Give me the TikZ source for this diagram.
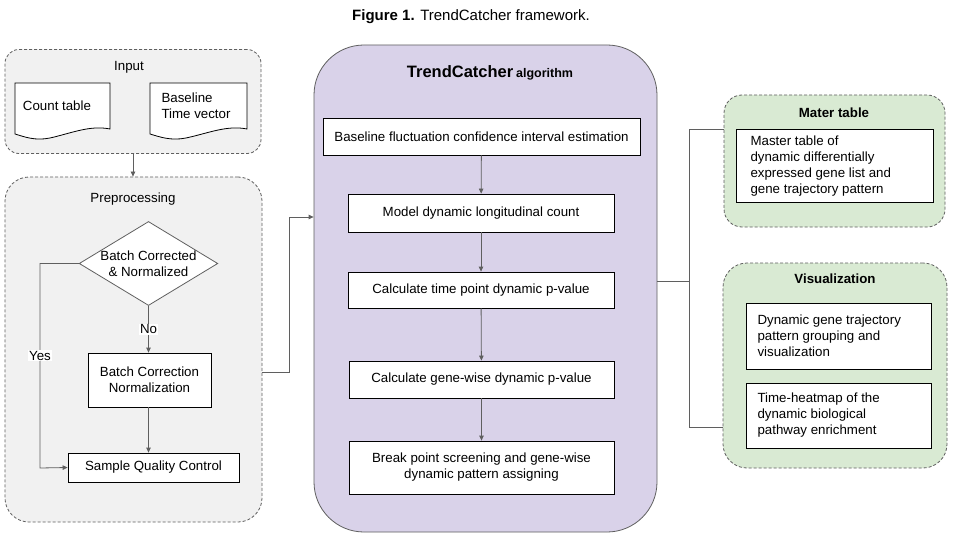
\documentclass[tikz,border=0pt]{standalone}
\usepackage{fontspec}
\setmainfont{Liberation Sans}
\usetikzlibrary{shapes.geometric,arrows.meta,calc}
\definecolor{lgray}{HTML}{F1F1F1}
\definecolor{lpurple}{HTML}{D9D2E9}
\definecolor{lgreen}{HTML}{D9EAD3}
\definecolor{lineg}{HTML}{5F5F5F}
\tikzset{
  txt/.style={font=\fontsize{13.3}{16}\selectfont},
  group/.style={draw=lineg, dash pattern=on 3pt off 2pt, line width=0.8pt, rectangle, inner sep=0pt},
  stepbox/.style={draw=black, fill=white, line width=0.8pt, rectangle, inner sep=0pt, txt, align=center},
  conn/.style={draw=lineg, line width=0.8pt},
  arr/.style={conn, -{Triangle[length=5pt,width=4.5pt]}},
}
\begin{document}
\begin{tikzpicture}[x=1pt,y=-1pt]
\useasboundingbox (0,0) rectangle (960,540);
\fill[white] (0,0) rectangle (960,540);

% title
\node[font=\fontsize{15}{18}\selectfont] (title) at (471,17) {\textbf{Figure 1.} TrendCatcher framework.};

% Input group
\node[group, fill=lgray, rounded corners=14pt, minimum width=256pt, minimum height=104pt] (input) at (133,101.5) {};
\node[txt] (inlab) at (129,67) {Input};
\draw[line width=0.8pt, fill=white] (15,83) -- (110,83) -- (110,129)
  .. controls (90,125) and (72,133) .. (50,138) .. controls (35,141) and (25,137) .. (15,134) -- cycle;
\node[txt] (count) at (57,106) {Count table};
\draw[line width=0.8pt, fill=white] (150,83) -- (247,83) -- (247,129)
  .. controls (227,125) and (209,133) .. (186,138) .. controls (171,141) and (160,137) .. (150,134) -- cycle;
\node[txt, align=left, anchor=west] (base) at (158,106) {Baseline\\Time vector};

% Preprocessing group
\node[group, fill=lgray, rounded corners=24pt, minimum width=257pt, minimum height=345pt] (prep) at (133.5,349.5) {};
\node[txt] (prelab) at (133,199) {Preprocessing};
\node[diamond, draw=lineg, fill=white, line width=0.8pt, minimum width=137pt, minimum height=83pt, inner sep=0pt, aspect=1.65, txt, align=center] (dia) at (148.5,263.5) {Batch Corrected\\\& Normalized};
\node[stepbox, minimum width=123pt, minimum height=54pt] (bcn) at (149.5,380) {Batch Correction\\Normalization};
\node[stepbox, minimum width=171pt, minimum height=29pt] (sqc) at (153.5,467.5) {Sample Quality Control};

\draw[arr] (input.south -| 133,0) -- (prep.north -| 133,0);
\draw[arr] (dia.south) -- node[fill=white, txt, inner sep=1pt] {No} (bcn.north -| dia.south);
\draw[arr] (bcn.south -| dia.south) -- (sqc.north -| dia.south);
\draw[arr] (dia.west) -- (40,263.5) -- node[fill=white, txt, inner sep=1pt, pos=0.45] {Yes} (40,468) -- (sqc.west);

% Algorithm group
\node[draw=lineg, fill=lpurple, line width=0.8pt, rounded corners=50pt, minimum width=343pt, minimum height=487pt, inner sep=0pt] (alg) at (485.5,288.5) {};
\node (algt) at (490,73) {{\fontsize{16.5}{19}\selectfont\bfseries TrendCatcher} {\fontsize{12.5}{15}\selectfont\bfseries algorithm}};
\node[stepbox, minimum width=317pt, minimum height=37pt] (s1) at (481.5,136.5) {Baseline fluctuation confidence interval estimation};
\node[stepbox, minimum width=266pt, minimum height=38pt] (s2) at (481,213) {Model dynamic longitudinal count};
\node[stepbox, minimum width=266pt, minimum height=36pt] (s3) at (481,290) {Calculate time point dynamic p-value};
\node[stepbox, minimum width=265pt, minimum height=37pt] (s4) at (481.5,379.5) {Calculate gene-wise dynamic p-value};
\node[stepbox, minimum width=265pt, minimum height=53pt] (s5) at (481.5,467.5) {Break point screening and gene-wise\\dynamic pattern assigning};
\draw[arr] (s1) -- (s2);
\draw[arr] (s2) -- (s3);
\draw[arr] (s3) -- (s4);
\draw[arr] (s4) -- (s5);

\draw[arr] (prep.east |- 0,372) -- (289,372) -- (289,217) -- (alg.west |- 0,217);

% Right groups
\node[group, fill=lgreen, rounded corners=18pt, minimum width=221pt, minimum height=132pt] (mt) at (834.5,161) {};
\node[font=\fontsize{13.3}{16}\selectfont\bfseries] (mtlab) at (834,113) {Mater table};
\node[draw=black, fill=white, line width=0.8pt, minimum width=197pt, minimum height=73pt, inner sep=0pt] (mtin) at (834.5,165.5) {};
\node[txt, align=left, anchor=west] (mttxt) at (747,166) {Master table of\\dynamic differentially\\expressed gene list and\\gene trajectory pattern};

\node[group, fill=lgreen, rounded corners=24pt, minimum width=224pt, minimum height=205pt] (vis) at (835,365.5) {};
\node[font=\fontsize{13.3}{16}\selectfont\bfseries] (vislab) at (835,279) {Visualization};
\node[draw=black, fill=white, line width=0.8pt, minimum width=185pt, minimum height=66pt, inner sep=0pt] (v1) at (838.5,336) {};
\node[txt, align=left, anchor=west] (v1t) at (754,336) {Dynamic gene trajectory\\pattern grouping and\\visualization};
\node[draw=black, fill=white, line width=0.8pt, minimum width=185pt, minimum height=65pt, inner sep=0pt] (v2) at (838.5,415.5) {};
\node[txt, align=left, anchor=west] (v2t) at (754,415.5) {Time-heatmap of the\\dynamic biological\\pathway enrichment};

\coordinate (jn) at (689,281);
\draw[conn] (alg.east |- jn) -- (jn);
\draw[conn] (mt.west |- 0,129) -| (jn) |- (vis.west |- 0,427);
\end{tikzpicture}
\end{document}
